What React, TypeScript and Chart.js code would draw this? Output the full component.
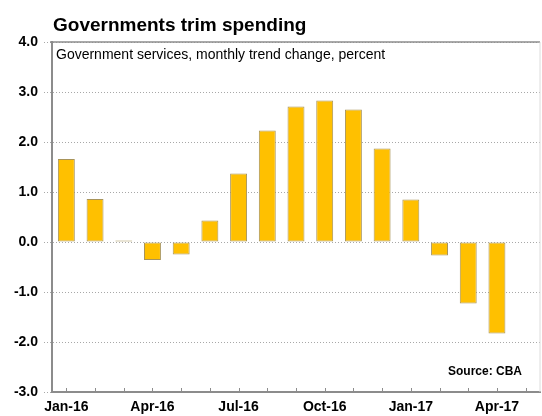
import React, { useEffect, useRef } from 'react';
import { Chart, registerables } from 'chart.js';

Chart.register(...registerables);

const months = [
  'Jan-16', 'Feb-16', 'Mar-16', 'Apr-16', 'May-16', 'Jun-16', 'Jul-16', 'Aug-16',
  'Sep-16', 'Oct-16', 'Nov-16', 'Dec-16', 'Jan-17', 'Feb-17', 'Mar-17', 'Apr-17', 'May-17',
];
const spendingChange: (number | null)[] = [
  1.66, 0.86, 0.03, -0.36, -0.25, 0.43, 1.37, 2.23,
  2.71, 2.83, 2.65, 1.87, 0.85, -0.27, -1.23, -1.83, null,
];
const labeledMonths = ['Jan-16', 'Apr-16', 'Jul-16', 'Oct-16', 'Jan-17', 'Apr-17'];
const yMin = -3;
const yMax = 4;
const yStep = 1;
const titleText = 'Governments trim spending';
const subtitleText = 'Government services, monthly trend change, percent';
const sourceText = 'Source: CBA';

const FONT = '"Liberation Sans", Arial, Helvetica, sans-serif';
const AXIS_GRAY = '#8c8c8c';
const GRID_GRAY = '#a8a8a8';

const decorPlugin = {
  id: 'decor',
  afterDraw(chart: any) {
    const { ctx, chartArea, scales } = chart;
    ctx.save();
    // top frame line (4.0) and right frame
    ctx.strokeStyle = AXIS_GRAY;
    ctx.lineWidth = 1.5;
    ctx.beginPath();
    ctx.moveTo(chartArea.left - 2, chartArea.top);
    ctx.lineTo(chartArea.right, chartArea.top);
    ctx.stroke();
    ctx.strokeStyle = '#dcdcdc';
    ctx.lineWidth = 1;
    ctx.beginPath();
    ctx.moveTo(chartArea.right, chartArea.top);
    ctx.lineTo(chartArea.right, chartArea.bottom);
    ctx.stroke();
    // inward tick marks on x axis
    ctx.strokeStyle = AXIS_GRAY;
    ctx.lineWidth = 1;
    for (let i = 0; i < months.length; i++) {
      const x = Math.round(scales.x.getPixelForValue(i)) + 0.5;
      ctx.beginPath();
      ctx.moveTo(x, chartArea.bottom);
      ctx.lineTo(x, chartArea.bottom - 4);
      ctx.stroke();
    }
    // texts
    ctx.fillStyle = '#000';
    ctx.textBaseline = 'alphabetic';
    ctx.textAlign = 'left';
    ctx.font = `bold 19px ${FONT}`;
    ctx.fillText(titleText, chartArea.left + 1, 31);
    ctx.font = `14px ${FONT}`;
    ctx.fillText(subtitleText, chartArea.left + 4, 59);
    ctx.font = `bold 12px ${FONT}`;
    ctx.textAlign = 'right';
    ctx.fillText(sourceText, chartArea.right - 18, 375);
    ctx.restore();
  },
};

export default function App() {
  const canvasRef = useRef<HTMLCanvasElement | null>(null);

  useEffect(() => {
    document.body.style.margin = '0';
    const canvas = canvasRef.current;
    if (!canvas) return;
    const chart = new Chart(canvas, {
      type: 'bar',
      data: {
        labels: months,
        datasets: [
          {
            data: spendingChange as any,
            backgroundColor: '#FFC000',
            borderColor: '#A8945A',
            borderWidth: 1,
            borderSkipped: false,
            categoryPercentage: 1,
            barPercentage: 0.59,
          },
        ],
      },
      options: {
        responsive: false,
        animation: false,
        devicePixelRatio: 1,
        layout: { padding: { top: 42, right: 2, left: 0, bottom: 0 } },
        plugins: {
          legend: { display: false },
          tooltip: { enabled: false },
          title: { display: false },
        },
        scales: {
          x: {
            offset: true,
            grid: { display: true, drawOnChartArea: false, drawTicks: false, offset: false },
            border: { display: true, color: AXIS_GRAY, width: 2 },
            ticks: {
              autoSkip: false,
              maxRotation: 0,
              minRotation: 0,
              padding: 7,
              color: '#000',
              font: { family: FONT, size: 14, weight: 'bold' },
              callback: (_v: any, i: number) =>
                labeledMonths.includes(months[i]) ? months[i] : '',
            },
            afterFit: (s: any) => {
              s.height = 24;
            },
          },
          y: {
            min: yMin,
            max: yMax,
            grid: {
              color: GRID_GRAY,
              lineWidth: 1,
              tickLength: 8,
              tickColor: GRID_GRAY,
              tickBorderDash: [1, 2],
            },
            border: { display: true, color: AXIS_GRAY, width: 2, dash: [1, 2] },
            ticks: {
              stepSize: yStep,
              padding: 6,
              color: '#000',
              font: { family: FONT, size: 14, weight: 'bold' },
              callback: (v: any) => Number(v).toFixed(1),
            },
            afterFit: (s: any) => {
              s.width = 52;
            },
          },
        },
      } as any,
      plugins: [decorPlugin],
    });
    return () => chart.destroy();
  }, []);

  return (
    <div style={{ position: 'absolute', left: 0, top: 0, width: 542, height: 416 }}>
      <canvas ref={canvasRef} width={542} height={416} />
    </div>
  );
}
